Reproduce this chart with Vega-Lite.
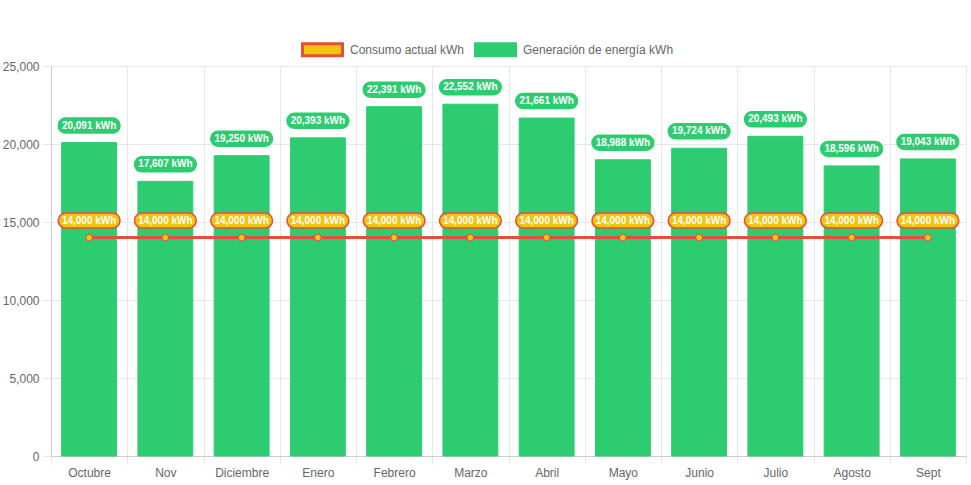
{
  "$schema": "https://vega.github.io/schema/vega-lite/v6.json",
  "width": 915,
  "height": 390,
  "autosize": {"type": "none"},
  "padding": {"left": 51, "top": 66, "right": 5, "bottom": 29},
  "config": {
    "view": {"stroke": null},
    "font": "Arial, Liberation Sans, sans-serif",
    "legend": {
      "orient": "none",
      "legendX": 250,
      "legendY": -38,
      "direction": "horizontal",
      "title": null,
      "symbolType": "M-1,-0.3L1,-0.3L1,0.3L-1,0.3Z",
      "symbolSize": 1600,
      "symbolStrokeWidth": 3,
      "labelFontSize": 12,
      "labelColor": "#666666",
      "labelFont": "Arial, Liberation Sans, sans-serif",
      "labelOffset": 6,
      "columnPadding": 4
    }
  },
  "data": {
    "values": [
      {"mes": "Octubre", "serie": "Generación de energía kWh", "valor": 20091, "etiqueta": "20,091 kWh"},
      {"mes": "Nov", "serie": "Generación de energía kWh", "valor": 17607, "etiqueta": "17,607 kWh"},
      {"mes": "Diciembre", "serie": "Generación de energía kWh", "valor": 19250, "etiqueta": "19,250 kWh"},
      {"mes": "Enero", "serie": "Generación de energía kWh", "valor": 20393, "etiqueta": "20,393 kWh"},
      {"mes": "Febrero", "serie": "Generación de energía kWh", "valor": 22391, "etiqueta": "22,391 kWh"},
      {"mes": "Marzo", "serie": "Generación de energía kWh", "valor": 22552, "etiqueta": "22,552 kWh"},
      {"mes": "Abril", "serie": "Generación de energía kWh", "valor": 21661, "etiqueta": "21,661 kWh"},
      {"mes": "Mayo", "serie": "Generación de energía kWh", "valor": 18988, "etiqueta": "18,988 kWh"},
      {"mes": "Junio", "serie": "Generación de energía kWh", "valor": 19724, "etiqueta": "19,724 kWh"},
      {"mes": "Julio", "serie": "Generación de energía kWh", "valor": 20493, "etiqueta": "20,493 kWh"},
      {"mes": "Agosto", "serie": "Generación de energía kWh", "valor": 18596, "etiqueta": "18,596 kWh"},
      {"mes": "Sept", "serie": "Generación de energía kWh", "valor": 19043, "etiqueta": "19,043 kWh"},
      {"mes": "Octubre", "serie": "Consumo actual kWh", "valor": 14000, "etiqueta": "14,000 kWh"},
      {"mes": "Nov", "serie": "Consumo actual kWh", "valor": 14000, "etiqueta": "14,000 kWh"},
      {"mes": "Diciembre", "serie": "Consumo actual kWh", "valor": 14000, "etiqueta": "14,000 kWh"},
      {"mes": "Enero", "serie": "Consumo actual kWh", "valor": 14000, "etiqueta": "14,000 kWh"},
      {"mes": "Febrero", "serie": "Consumo actual kWh", "valor": 14000, "etiqueta": "14,000 kWh"},
      {"mes": "Marzo", "serie": "Consumo actual kWh", "valor": 14000, "etiqueta": "14,000 kWh"},
      {"mes": "Abril", "serie": "Consumo actual kWh", "valor": 14000, "etiqueta": "14,000 kWh"},
      {"mes": "Mayo", "serie": "Consumo actual kWh", "valor": 14000, "etiqueta": "14,000 kWh"},
      {"mes": "Junio", "serie": "Consumo actual kWh", "valor": 14000, "etiqueta": "14,000 kWh"},
      {"mes": "Julio", "serie": "Consumo actual kWh", "valor": 14000, "etiqueta": "14,000 kWh"},
      {"mes": "Agosto", "serie": "Consumo actual kWh", "valor": 14000, "etiqueta": "14,000 kWh"},
      {"mes": "Sept", "serie": "Consumo actual kWh", "valor": 14000, "etiqueta": "14,000 kWh"}
    ]
  },
  "encoding": {
    "x": {
      "field": "mes",
      "type": "nominal",
      "sort": null,
      "scale": {
        "domain": ["Octubre", "Nov", "Diciembre", "Enero", "Febrero", "Marzo", "Abril", "Mayo", "Junio", "Julio", "Agosto", "Sept"],
        "paddingInner": 0,
        "paddingOuter": 0
      },
      "axis": {
        "title": null,
        "labelAngle": 0,
        "tickBand": "extent",
        "grid": true,
        "gridColor": "#e6e6e6",
        "tickColor": "#e6e6e6",
        "tickSize": 8,
        "domainColor": "#cccccc",
        "labelColor": "#666666",
        "labelFontSize": 12,
        "labelPadding": 3
      }
    },
    "y": {
      "field": "valor",
      "type": "quantitative",
      "scale": {"domain": [0, 25000], "nice": false},
      "axis": {
        "title": null,
        "values": [0, 5000, 10000, 15000, 20000, 25000],
        "format": ",d",
        "grid": true,
        "gridColor": "#e6e6e6",
        "tickColor": "#e6e6e6",
        "tickSize": 8,
        "domainColor": "#cccccc",
        "labelColor": "#666666",
        "labelFontSize": 12,
        "labelPadding": 4
      }
    }
  },
  "layer": [
    {
      "transform": [{"filter": "datum.serie === 'Generación de energía kWh'"}],
      "mark": {"type": "bar", "width": {"band": 0.72}, "strokeWidth": 1},
      "encoding": {
        "fill": {
          "field": "serie", "type": "nominal",
          "scale": {"domain": ["Consumo actual kWh", "Generación de energía kWh"], "range": ["#f1c40f", "#2ecc71"]}
        },
        "stroke": {
          "field": "serie", "type": "nominal",
          "scale": {"domain": ["Consumo actual kWh", "Generación de energía kWh"], "range": ["#e74c3c", "#2ecc71"]}
        }
      }
    },
    {
      "transform": [{"filter": "datum.serie === 'Consumo actual kWh'"}],
      "mark": {"type": "line", "stroke": "#e74c3c", "strokeWidth": 3},
      "encoding": {}
    },
    {
      "transform": [{"filter": "datum.serie === 'Consumo actual kWh'"}],
      "mark": {"type": "point", "filled": true, "shape": "circle", "size": 45, "strokeWidth": 1, "opacity": 1},
      "encoding": {
        "fill": {"field": "serie", "type": "nominal"},
        "stroke": {"field": "serie", "type": "nominal"}
      }
    },
    {
      "mark": {
        "type": "point",
        "filled": true,
        "shape": "M-0.78,-0.25L0.78,-0.25A0.25,0.25 0 0 1 0.78,0.25L-0.78,0.25A0.25,0.25 0 0 1 -0.78,-0.25Z",
        "size": 3600,
        "strokeWidth": 1.5,
        "opacity": 1,
        "yOffset": -17
      },
      "encoding": {
        "fill": {"field": "serie", "type": "nominal"},
        "stroke": {"field": "serie", "type": "nominal"}
      }
    },
    {
      "mark": {"type": "text", "color": "white", "fontWeight": "bold", "fontSize": 10, "baseline": "middle", "yOffset": -17},
      "encoding": {
        "text": {"field": "etiqueta", "type": "nominal"}
      }
    }
  ]
}
